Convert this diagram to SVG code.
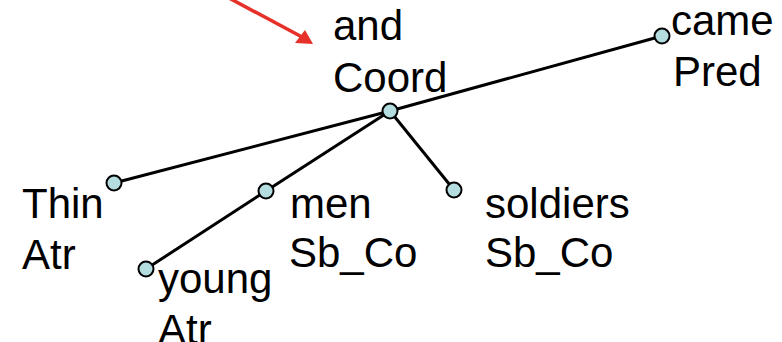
<svg xmlns="http://www.w3.org/2000/svg" width="782" height="342" viewBox="0 0 782 342">
  <style>
    .lbl { font-family: "Liberation Sans", Arial, sans-serif; font-size: 42px; fill: #000; }
    .edge { stroke: #000; stroke-width: 3; fill: none; }
    .node { fill: #b4dde0; stroke: #000; stroke-width: 2; }
  </style>
  <rect width="782" height="342" fill="#fff"/>

  <!-- pointer arrow -->
  <g id="pointer">
    <line x1="229" y1="-2" x2="302" y2="37" stroke="#e8302a" stroke-width="3.5"/>
    <polygon points="313,44 295,43 305,30" fill="#e8302a"/>
  </g>

  <!-- dependency edges -->
  <g id="edges">
    <line class="edge" x1="114" y1="183" x2="390" y2="111"/>
    <line class="edge" x1="390" y1="111" x2="662" y2="36"/>
    <line class="edge" x1="390" y1="111" x2="266" y2="191"/>
    <line class="edge" x1="266" y1="191" x2="146" y2="269"/>
    <line class="edge" x1="390" y1="111" x2="454" y2="190"/>
  </g>

  <g id="came">
    <circle class="node" cx="662" cy="36" r="7.5"/>
    <text class="lbl" x="671" y="35">came</text>
    <text class="lbl" x="673" y="86">Pred</text>
  </g>
  <g id="and">
    <circle class="node" cx="390" cy="111" r="7.5"/>
    <text class="lbl" x="333" y="40">and</text>
    <text class="lbl" x="333" y="92">Coord</text>
  </g>
  <g id="thin">
    <circle class="node" cx="114" cy="183" r="7.5"/>
    <text class="lbl" x="22" y="218">Thin</text>
    <text class="lbl" x="22" y="269">Atr</text>
  </g>
  <g id="men">
    <circle class="node" cx="266" cy="191" r="7.5"/>
    <text class="lbl" x="290" y="218">men</text>
    <text class="lbl" x="289" y="267">Sb_Co</text>
  </g>
  <g id="young">
    <circle class="node" cx="146" cy="269" r="7.5"/>
    <text class="lbl" x="158" y="293">young</text>
    <text class="lbl" x="158" y="344">Atr</text>
  </g>
  <g id="soldiers">
    <circle class="node" cx="454" cy="190" r="7.5"/>
    <text class="lbl" x="485" y="218">soldiers</text>
    <text class="lbl" x="485" y="267">Sb_Co</text>
  </g>
</svg>
